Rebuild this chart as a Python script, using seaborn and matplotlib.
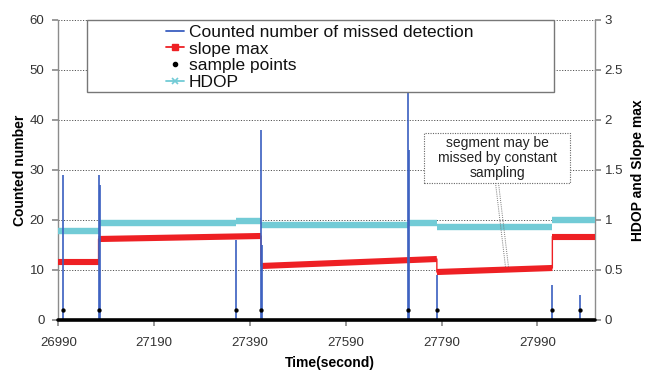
import matplotlib
matplotlib.use("Agg")
import matplotlib.pyplot as plt
import seaborn as sns
import pandas as pd
from matplotlib.lines import Line2D
from matplotlib.patches import Rectangle

# ---------------- data ----------------
spike_time = [27000, 27074, 27076, 27360, 27413, 27415, 27720, 27722, 27780, 28021, 28079]
spike_count = [29, 29, 27, 16, 38, 15, 52, 34, 9, 7, 5]
sample_time = [27000, 27074, 27360, 27413, 27720, 27780, 28021, 28079]
sample_level = [2, 2, 2, 2, 2, 2, 2, 2]

hdop_start = [26990, 27074, 27360, 27413, 27720, 27780, 28021]
hdop_end = [27074, 27360, 27413, 27720, 27780, 28021, 28110]
hdop_value = [0.89, 0.975, 0.99, 0.95, 0.97, 0.93, 1.0]

slope_start = [26990, 27074, 27413, 27780, 28021]
slope_end = [27074, 27413, 27780, 28021, 28110]
slope_from = [0.58, 0.81, 0.54, 0.48, 0.835]
slope_to = [0.58, 0.84, 0.61, 0.52, 0.835]

x_ticks = [26990, 27190, 27390, 27590, 27790, 27990]
left_ticks = [0, 10, 20, 30, 40, 50, 60]
right_ticks = [0, 0.5, 1, 1.5, 2, 2.5, 3]
right_tick_labels = ["0", "0.5", "1", "1.5", "2", "2.5", "3"]

legend_labels = ["Counted number of missed detection", "slope max", "sample points", "HDOP"]
note_text = "segment may be\nmissed by constant\nsampling"

# ---------------- style ----------------
sns.set_theme(style="white")
plt.rcParams['font.family'] = ['Liberation Sans', 'DejaVu Sans']

BLUE = "#3a5fc0"
RED = "#ee2024"
CYAN = "#72cbd6"
GRAY = "#8c8c8c"
TXT = "#333333"

W, H = 660, 372
fig = plt.figure(figsize=(6.6, 3.72), dpi=100)
L, R, T, B = 58.3, 595, 20, 320
ax = fig.add_axes([L / W, 1 - B / H, (R - L) / W, (B - T) / H])
ax2 = ax.twinx()

# HDOP / slope on ax (right scale)
hdop_df = pd.DataFrame({
    "t": hdop_start + hdop_end,
    "v": hdop_value + hdop_value,
    "seg": list(range(len(hdop_start))) * 2,
})
sns.lineplot(data=hdop_df, x="t", y="v", units="seg", estimator=None, color=CYAN,
             lw=4.6, ax=ax, legend=False, solid_capstyle="butt", zorder=3)

slope_df = pd.DataFrame({
    "t": slope_start + slope_end,
    "v": slope_from + slope_to,
    "seg": list(range(len(slope_start))) * 2,
})
conn_t, conn_v = [], []
for s, e, a, b in zip(slope_start, slope_end, slope_from, slope_to):
    conn_t += [s, e]
    conn_v += [a, b]
sns.lineplot(x=conn_t, y=conn_v, sort=False, estimator=None, color=RED, lw=1.0, ax=ax, zorder=3)
sns.lineplot(data=slope_df, x="t", y="v", units="seg", estimator=None, color=RED,
             lw=4.4, ax=ax, legend=False, solid_capstyle="butt", zorder=4)

ax.set_xlim(26990, 28110)
ax.set_ylim(0, 3)
ax.set_yticks(right_ticks)
ax.set_yticklabels(right_tick_labels)
ax.set_xticks(x_ticks)
ax.yaxis.tick_right()
ax.yaxis.set_label_position("right")
ax.grid(axis="y", color="#555555", linestyle=(0, (1.2, 1.6)), lw=0.7)
ax.grid(axis="x", visible=False)
for s in ["top", "bottom"]:
    ax.spines[s].set_visible(False)
for s in ["left", "right"]:
    ax.spines[s].set_visible(True)
    ax.spines[s].set_color(GRAY)
    ax.spines[s].set_linewidth(1.0)
ax.tick_params(axis="y", which="both", right=True, left=False, direction="out",
               length=4, color=GRAY, labelsize=9.5, labelcolor=TXT, pad=3)
ax.tick_params(axis="x", bottom=True, direction="out", length=4, color=GRAY,
               labelsize=9.5, labelcolor=TXT, pad=8)
ax.set_xlabel("Time(second)", fontsize=10, fontweight="bold", color="black")
ax.xaxis.set_label_coords((330 - L) / (R - L), -(356 - B) / (B - T))
ax.set_ylabel("HDOP and Slope max", fontsize=10, fontweight="bold", color="black")
ax.yaxis.set_label_coords(1 + (631 - R) / (R - L), 0.5)
ax.set_facecolor("white")

# counted number on ax2 (left scale)
ax2.vlines(spike_time, 0, spike_count, color=BLUE, lw=1.2, zorder=5)
sns.scatterplot(x=sample_time, y=sample_level, color="black", s=8, edgecolor="black",
                ax=ax2, zorder=6)
ax2.axhline(0, color="black", lw=2.6, zorder=7, clip_on=False)
ax2.set_ylim(0, 60)
ax2.set_yticks(left_ticks)
ax2.yaxis.tick_left()
ax2.yaxis.set_label_position("left")
for s in ax2.spines.values():
    s.set_visible(False)
ax2.grid(False)
ax2.tick_params(axis="y", left=True, right=False, direction="out", length=4,
                color=GRAY, labelsize=9.5, labelcolor=TXT, pad=6)
ax2.set_ylabel("Counted number", fontsize=10, fontweight="bold", color="black")
ax2.yaxis.set_label_coords(-(L - 27) / (R - L), 0.5)

# legend box
def fx(x):
    return x / W

def fy(y):
    return 1 - y / H

rect = Rectangle((fx(87), fy(92)), fx(554) - fx(87), fy(20) - fy(92), transform=fig.transFigure,
                 facecolor="white", edgecolor="#777777", lw=1.0, zorder=20)
fig.patches.append(rect)
handles = [
    Line2D([], [], color=BLUE, lw=1.3),
    Line2D([], [], color=RED, lw=1.3, marker="s", markersize=4.5),
    Line2D([], [], color="none", marker="o", markersize=3, markerfacecolor="black",
           markeredgecolor="black"),
    Line2D([], [], color=CYAN, lw=1.3, marker="x", markersize=4.5, markeredgewidth=1.2),
]
leg = fig.legend(handles, legend_labels, loc="upper left", bbox_to_anchor=(fx(166), fy(24.5)),
                 bbox_transform=fig.transFigure, frameon=False, fontsize=12.5,
                 borderpad=0, borderaxespad=0, handlelength=1.05, handletextpad=0.25,
                 labelspacing=0.1)
leg.set_zorder(21)
for t in leg.get_texts():
    t.set_color("#111111")

# annotation box
nrect = Rectangle((fx(424), fy(183)), fx(570) - fx(424), fy(133) - fy(183),
                  transform=fig.transFigure, facecolor="white", edgecolor="#666666",
                  lw=0.8, linestyle=(0, (1, 1.2)), zorder=20)
fig.patches.append(nrect)
fig.text(fx(497), fy(158), note_text, ha="center", va="center", fontsize=10,
         linespacing=1.05, color="#222222", zorder=22)
for dx in (-1.5, 1.5):
    fig.add_artist(Line2D([fx(497 + dx), fx(507 + dx)], [fy(183), fy(267)],
                          transform=fig.transFigure, color="#777777", lw=0.7,
                          linestyle=(0, (1, 1.2)), zorder=22))

fig.savefig("out.png", dpi=100)
